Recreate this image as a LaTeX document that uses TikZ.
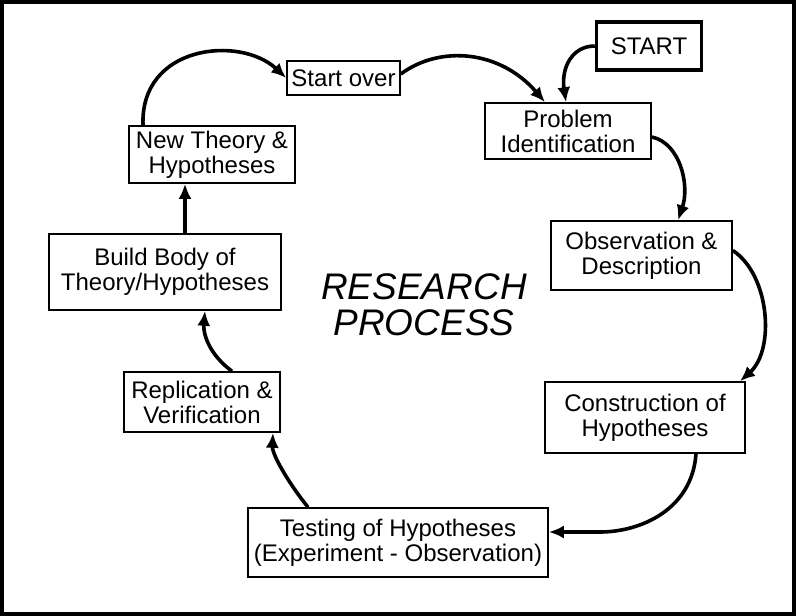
\documentclass[tikz,border=0pt]{standalone}
\usepackage{fontspec}
\setmainfont{Liberation Sans}
\usetikzlibrary{arrows.meta}
\tikzset{
  box/.style={draw, line width=1.6pt, inner sep=0pt, align=center, font=\fontsize{24}{25}\selectfont},
  startbox/.style={box, line width=3.5pt},
  flow/.style={line width=3.6pt, -{Latex[length=15pt,width=13pt]}},
}
\begin{document}
\begin{tikzpicture}[x=1pt,y=-1pt]
\useasboundingbox (0,0) rectangle (796,616);
\draw[line width=4pt] (2,2) rectangle (794,614);

\node[startbox, minimum width=105pt, minimum height=48pt] (start) at (649,46) {START};
\node[box, minimum width=166pt, minimum height=56pt] (prob) at (568,131) {Problem\\Identification};
\node[box, minimum width=113pt, minimum height=34pt] (so) at (343.5,78) {Start over};
\node[box, minimum width=166pt, minimum height=57pt] (nt) at (212,154.5) {New Theory \&\\Hypotheses};
\node[box, minimum width=232pt, minimum height=76pt] (bb) at (165,272) {Build Body of\\Theory/Hypotheses};
\node[box, minimum width=181pt, minimum height=69pt] (obs) at (641.5,255.5) {Observation \&\\Description};
\node[box, minimum width=200pt, minimum height=71pt] (cons) at (645,417.5) {Construction of\\Hypotheses};
\node[box, minimum width=156pt, minimum height=60pt] (rep) at (202,402) {Replication \&\\Verification};
\node[box, minimum width=300pt, minimum height=69pt] (test) at (398,542.5) {Testing of Hypotheses\\(Experiment - Observation)};

\node[align=center, inner sep=0pt, font=\itshape\fontsize{37}{36}\selectfont] (title) at (424,305) {RESEARCH\\PROCESS};

% START -> Problem
\draw[flow] (start.west) .. controls (572,46) and (561,68) .. ([xshift=-2pt]prob.north);
% Start over -> Problem
\draw[flow] ([yshift=4pt]so.east) .. controls (440,45) and (500,50) .. ([xshift=-23pt]prob.north);
% New Theory -> Start over
\draw[flow] ([xshift=-69pt]nt.north) .. controls (140,45) and (240,35) .. (so.west);
% Build -> New Theory
\draw[flow] ([xshift=20pt]bb.north) -- ([xshift=20pt]bb.north |- nt.south);
% Replication -> Build
\draw[flow] ([xshift=30pt]rep.north) .. controls (210,355) and (203,335) .. ([xshift=40pt]bb.south);
% Testing -> Replication
\draw[flow] ([xshift=-90pt]test.north) .. controls (290,485) and (272,455) .. ([xshift=71pt]rep.south);
% Construction -> Testing
\draw[flow] ([xshift=51pt]cons.south) .. controls (692,510) and (640,532) .. (600,532) -- ([yshift=10.5pt]test.east);
% Observation -> Construction
\draw[flow] ([yshift=5pt]obs.east) .. controls (770,275) and (775,350) .. ([xshift=95pt]cons.north);
% Problem -> Observation
\draw[flow] ([yshift=-6pt]prob.east) .. controls (680,143) and (690,185) .. ([xshift=36.5pt]obs.north);
\end{tikzpicture}
\end{document}
